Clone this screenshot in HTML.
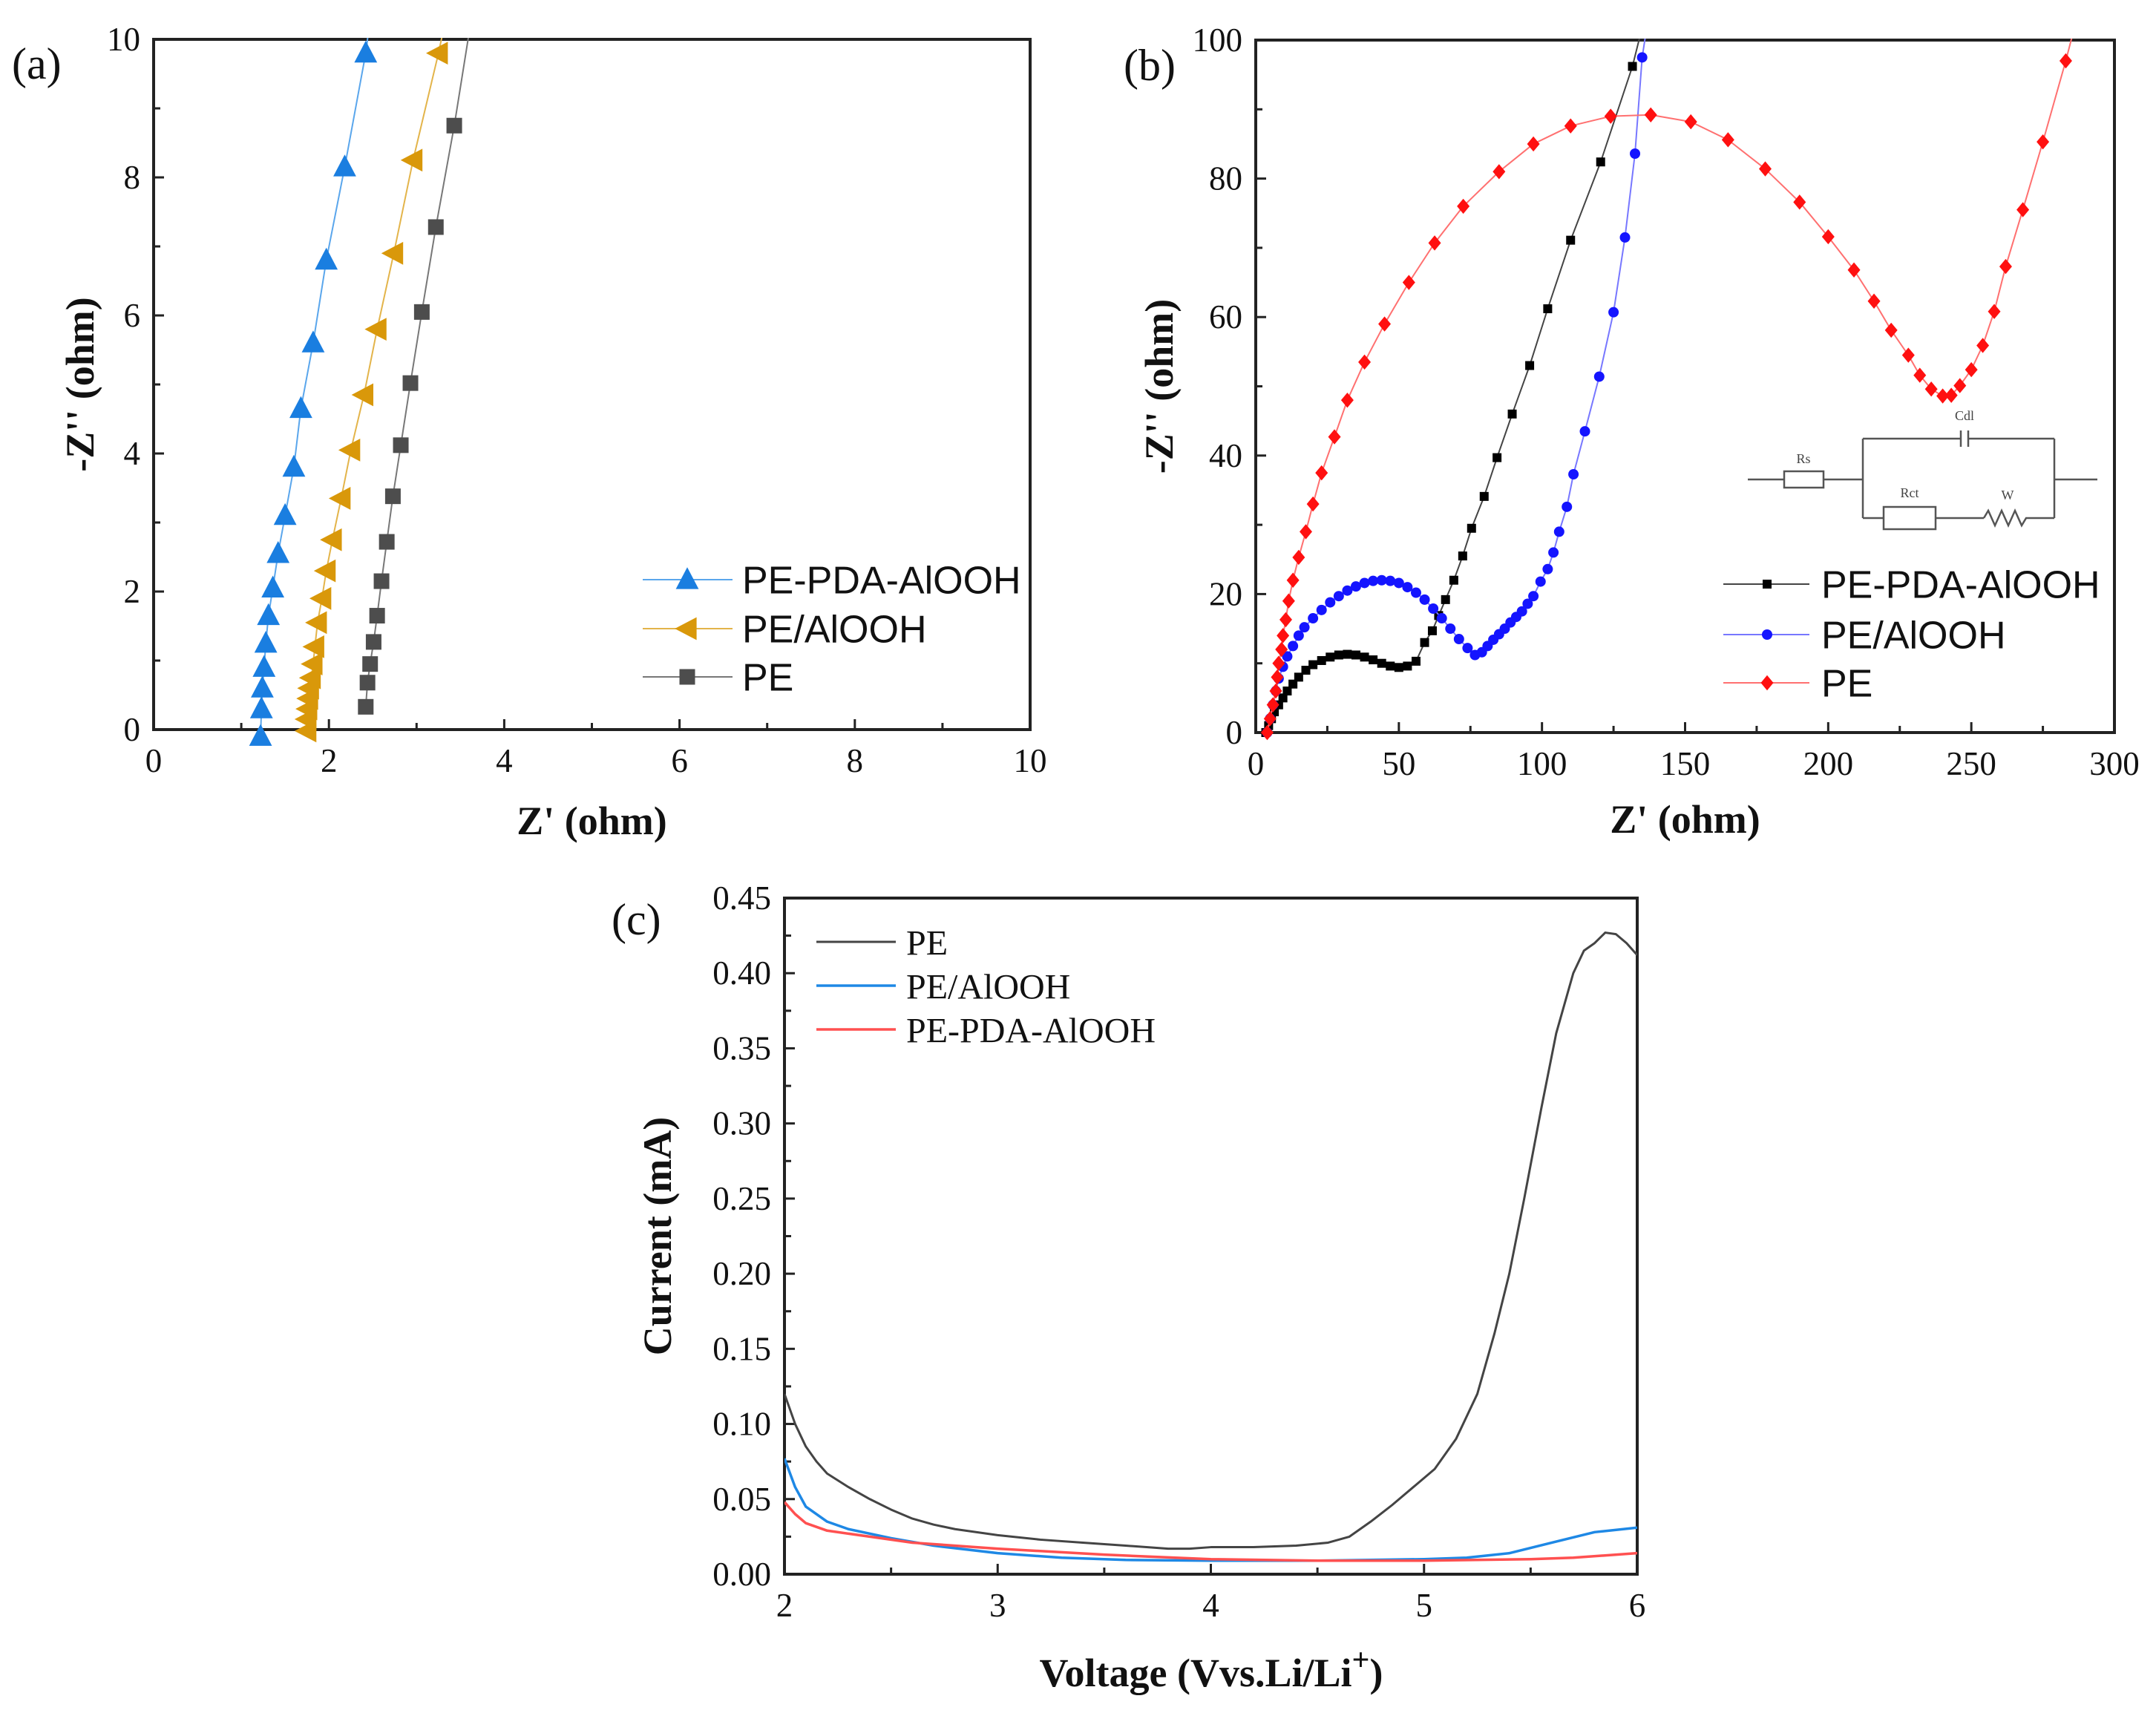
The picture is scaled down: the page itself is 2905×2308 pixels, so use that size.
<!DOCTYPE html>
<html><head><meta charset="utf-8"><style>
html,body{margin:0;padding:0;background:#fff;}
svg{display:block;}
</style></head><body>
<svg id="fig" width="2905" height="2308" viewBox="0 0 2905 2308" xmlns="http://www.w3.org/2000/svg"></svg>
<script>
// ---- Panel (a) data ----
const aPdaX=[1.22,1.23,1.24,1.26,1.28,1.31,1.36,1.42,1.5,1.6,1.68,1.82,1.97,2.18,2.42];
const aPdaY=[-0.1,0.3,0.6,0.9,1.25,1.65,2.05,2.55,3.1,3.8,4.65,5.6,6.8,8.15,9.8];
const aAlX=[1.75,1.75,1.76,1.77,1.78,1.8,1.82,1.84,1.87,1.92,1.97,2.04,2.14,2.25,2.4,2.55,2.74,2.96,3.25];
const aAlY=[-0.02,0.15,0.3,0.45,0.6,0.75,0.95,1.2,1.55,1.9,2.3,2.75,3.35,4.05,4.85,5.8,6.9,8.25,9.8];
const aPeX=[2.42,2.44,2.47,2.51,2.55,2.6,2.66,2.73,2.82,2.93,3.06,3.22,3.43];
const aPeY=[0.33,0.68,0.95,1.27,1.65,2.15,2.72,3.38,4.12,5.02,6.05,7.28,8.75];
const aXTicks=[0,2,4,6,8,10];
const aYTicks=[0,2,4,6,8,10];
// ---- Panel (b) data ----
const bPdaX=[3.5,4.5,5.5,6.5,8,9.5,11,13,15,17.5,20,23,26,29,32,35,38,41,44,47,50,53,56,59,61.7,63.9,66.3,69.2,72.3,75.4,79.8,84.3,89.6,95.7,102,110,120.5,131.6];
const bPdaY=[0,1,2,3,4,5,6,7,8,9,9.8,10.4,10.9,11.2,11.3,11.2,10.9,10.5,10,9.6,9.4,9.6,10.3,13,14.7,16.9,19.2,22,25.5,29.5,34.1,39.7,46,53,61.2,71.1,82.4,96.2];
const bAlX=[4,5,6,7,8,9.5,11,13,15,17,20,23,26,29,32,35,38,41,44,47,50,53,56,59,62,65,68,71,74,76.6,79,81,83,85,87,89,91,93,95,97,99.5,102,104,106,108.7,111,115,120,125,129,132.5,135];
const bAlY=[0,2,4,6,7.8,9.5,11,12.5,14,15.2,16.5,17.7,18.8,19.7,20.5,21.1,21.6,21.9,22,21.9,21.6,21,20.2,19.2,17.9,16.5,15,13.5,12.2,11.2,11.6,12.5,13.4,14.2,15,15.9,16.7,17.5,18.6,19.7,21.8,23.6,26,29,32.6,37.3,43.5,51.4,60.7,71.5,83.6,97.5];
const bPeX=[4,5,6,7,7.5,8,9,9.5,10.5,11.5,13,15,17.5,20,23,27.5,32,38,45,53.5,62.5,72.5,85,97,110,124,138,152,165,178,190,200,209,216,222,228,232,236,240,243,246,250,254,258,262,268,275,283];
const bPeY=[0,2,4,6,8,10,12,14,16.3,19,22,25.3,29,33,37.5,42.7,48,53.5,59,65,70.7,76,81,85,87.6,89,89.2,88.2,85.6,81.4,76.6,71.6,66.8,62.3,58.1,54.5,51.6,49.6,48.6,48.7,50.1,52.4,55.9,60.8,67.3,75.5,85.3,97];
const bXTicks=[0,50,100,150,200,250,300];
const bYTicks=[0,20,40,60,80,100];
// ---- Panel (c) data ----
const cPeX=[2,2.05,2.1,2.15,2.2,2.3,2.4,2.5,2.6,2.7,2.8,3,3.2,3.4,3.6,3.8,3.9,4,4.2,4.4,4.55,4.65,4.75,4.85,4.95,5.05,5.15,5.25,5.33,5.4,5.47,5.55,5.62,5.7,5.75,5.8,5.85,5.9,5.95,6];
const cPeY=[0.12,0.1,0.085,0.075,0.067,0.058,0.05,0.043,0.037,0.033,0.03,0.026,0.023,0.021,0.019,0.017,0.017,0.018,0.018,0.019,0.021,0.025,0.035,0.046,0.058,0.07,0.09,0.12,0.16,0.2,0.25,0.31,0.36,0.4,0.415,0.42,0.427,0.426,0.42,0.412];
const cAlX=[2,2.05,2.1,2.2,2.3,2.5,2.7,3,3.3,3.6,4,4.5,5,5.2,5.4,5.6,5.8,6];
const cAlY=[0.077,0.058,0.045,0.035,0.03,0.024,0.019,0.014,0.011,0.0095,0.009,0.009,0.01,0.011,0.014,0.021,0.028,0.031];
const cPdaX=[2,2.05,2.1,2.2,2.4,2.6,3,3.5,4,4.5,5,5.5,5.7,6];
const cPdaY=[0.048,0.04,0.034,0.029,0.025,0.021,0.017,0.013,0.01,0.009,0.009,0.01,0.011,0.014];
const cXTicks=[2,3,4,5,6];
const cYTicks=[0,0.05,0.1,0.15,0.2,0.25,0.3,0.35,0.4,0.45];

const svg=document.getElementById('fig');
const NS='http://www.w3.org/2000/svg';
const SERIF='"Liberation Serif", serif';
const SANS='"Liberation Sans", sans-serif';
function mk(tag,attrs,parent){const e=document.createElementNS(NS,tag);for(const k in attrs)e.setAttribute(k,attrs[k]);(parent||svg).appendChild(e);return e;}
function txt(s,attrs,parent){const e=mk('text',attrs,parent);e.textContent=s;return e;}

function axes(P){
  const g=mk('g',{});
  
  
  const sx=v=>P.l+(v-P.x0)/(P.x1-P.x0)*(P.r-P.l);
  const sy=v=>P.b-(v-P.y0)/(P.y1-P.y0)*(P.b-P.t);
  for(let v=P.x0;v<=P.x1+1e-9;v+=P.xMinor){const x=sx(v);const maj=P.xTicks.some(t=>Math.abs(t-v)<1e-9);const L=maj?14:9;
    mk('line',{x1:x,x2:x,y1:P.b,y2:P.b-L,stroke:'#222','stroke-width':3},g);}
  for(let v=P.y0;v<=P.y1+1e-9;v+=P.yMinor){const y=sy(v);const maj=P.yTicks.some(t=>Math.abs(t-v)<1e-9);const L=maj?14:9;
    mk('line',{x1:P.l,x2:P.l+L,y1:y,y2:y,stroke:'#222','stroke-width':3},g);}
  mk('rect',{x:P.l,y:P.t,width:P.r-P.l,height:P.b-P.t,fill:'none',stroke:'#222','stroke-width':4},g);
  P.xTicks.forEach(v=>{const t=txt(P.fmtX?P.fmtX(v):String(v),{x:sx(v),y:P.b+57,'font-family':SERIF,'font-size':45,'text-anchor':'middle',fill:'#111'},g);
    });
  P.yTicks.forEach(v=>{const t=txt(P.fmtY?P.fmtY(v):String(v),{x:P.l-18,y:sy(v)+15,'font-family':SERIF,'font-size':45,'text-anchor':'end',fill:'#111'},g);
    });
  if(P.xTitle){const xt=txt(P.xTitle,{x:(P.l+P.r)/2,y:P.xTitleY,'font-family':SERIF,'font-size':54,'font-weight':'bold','text-anchor':'middle',fill:'#111'},g);
  }
  const yt=txt(P.yTitle,{x:0,y:0,'font-family':SERIF,'font-size':54,'font-weight':'bold','text-anchor':'middle',fill:'#111',transform:`translate(${P.yTitleX},${(P.t+P.b)/2}) rotate(-90)`},g);
  
  const pl=txt(P.label,{x:P.labelX,y:P.labelY,'font-family':SERIF,'font-size':60,fill:'#111'},g);
  
  return {sx,sy};
}
function marker(type,x,y,s,color,g){
  if(type==='tri')return mk('polygon',{points:`${x},${y-s*0.6} ${x-s*0.55},${y+s*0.45} ${x+s*0.55},${y+s*0.45}`,fill:color},g);
  if(type==='ltri')return mk('polygon',{points:`${x-s*0.6},${y} ${x+s*0.45},${y-s*0.55} ${x+s*0.45},${y+s*0.55}`,fill:color},g);
  if(type==='sq')return mk('rect',{x:x-s/2,y:y-s/2,width:s,height:s,fill:color},g);
  if(type==='circ')return mk('circle',{cx:x,cy:y,r:s/2,fill:color},g);
  if(type==='dia')return mk('polygon',{points:`${x},${y-s*0.6} ${x+s*0.5},${y} ${x},${y+s*0.6} ${x-s*0.5},${y}`,fill:color},g);
}
function series(S,A,P){
  const g=mk('g',{});
  
  
  const cp=mk('clipPath',{id:'clip-'+S.name},g);
  mk('rect',{x:P.l,y:P.t-2,width:P.r-P.l,height:P.b-P.t+30},cp);
  let pts=S.x.map((v,i)=>[A.sx(v),A.sy(S.y[i])]);
  let lpts=pts.slice();
  if(S.ext){lpts.push([A.sx(S.ext[0]),A.sy(S.ext[1])]);}
  const pl=mk('polyline',{points:lpts.map(p=>p.join(',')).join(' '),fill:'none',stroke:S.lineColor,'stroke-width':S.lw||2,'stroke-linejoin':'round','clip-path':`url(#clip-${S.name})`},g);
  
  
  if(S.marker){pts.forEach(p=>{const m=marker(S.marker,p[0],p[1],S.ms,S.color,g);
    
    });}
}
function legend(items,x0,x1,mx,tx,ys,font,size,nm){
  const g=mk('g',{});
  
  
  items.forEach((it,i)=>{const y=ys[i];
    const e=mk('g',{},g);
    
    
    mk('line',{x1:x0,x2:x1,y1:y,y2:y,stroke:it.lineColor,'stroke-width':it.lw||2},e);
    if(it.marker)marker(it.marker,mx,y,it.ms,it.color,e);
    txt(it.label,{x:tx,y:y+size*0.36,'font-family':font,'font-size':size,fill:'#111'},e);
  });
}

// ===== Panel (a) =====
const PA={name:'panel-a',l:207,r:1388,t:53,b:983,x0:0,x1:10,y0:0,y1:10,xMinor:1,yMinor:1,xTicks:aXTicks,yTicks:aYTicks,
  xTitle:"Z' (ohm)",yTitle:"-Z'' (ohm)",xTitleY:1124,yTitleX:126,label:'(a)',labelX:16,labelY:106};
const AA=axes(PA);
const aS=[
 {name:'a-pe-pda-alooh',x:aPdaX,y:aPdaY,marker:'tri',ms:28,color:'#1a7ee0',lineColor:'#5aa6ec',ext:[2.45,10.1],label:'PE-PDA-AlOOH'},
 {name:'a-pe-alooh',x:aAlX,y:aAlY,marker:'ltri',ms:28,color:'#d9980a',lineColor:'#e3b44a',ext:[3.3,10.1],label:'PE/AlOOH'},
 {name:'a-pe',x:aPeX,y:aPeY,marker:'sq',ms:21,color:'#4d4d4d',lineColor:'#777',ext:[3.6,10.1],label:'PE'}];
aS.forEach(s=>series(s,AA,PA));
legend(aS,866,987,926,1000,[781,847,912],SANS,52,'legend-a');

// ===== Panel (b) =====
const PB={name:'panel-b',l:1692,r:2849,t:54,b:987,x0:0,x1:300,y0:0,y1:100,xMinor:25,yMinor:10,xTicks:bXTicks,yTicks:bYTicks,
  xTitle:"Z' (ohm)",yTitle:"-Z'' (ohm)",xTitleY:1122,yTitleX:1580,label:'(b)',labelX:1514,labelY:108};
const AB=axes(PB);
const bS=[
 {name:'b-pe-pda-alooh',x:bPdaX,y:bPdaY,marker:'sq',ms:12,color:'#000',lineColor:'#444',ext:[134.5,101],label:'PE-PDA-AlOOH'},
 {name:'b-pe-alooh',x:bAlX,y:bAlY,marker:'circ',ms:14,color:'#1414ff',lineColor:'#7777ff',ext:[136.3,101],label:'PE/AlOOH'},
 {name:'b-pe',x:bPeX,y:bPeY,marker:'dia',ms:17,color:'#ff1010',lineColor:'#ff7070',ext:[285.5,101],label:'PE'}];
bS.forEach(s=>series(s,AB,PB));
legend(bS,2322,2438,2381,2454,[787,855,920],SANS,52,'legend-b');

// circuit inset
(function(){
  const g=mk('g',{stroke:'#555','stroke-width':2.5,fill:'none'});
  
  
  mk('line',{x1:2355,y1:646,x2:2404,y2:646},g);
  mk('rect',{x:2404,y:635,width:53,height:22},g);
  mk('line',{x1:2457,y1:646,x2:2510,y2:646},g);
  mk('line',{x1:2510,y1:591,x2:2510,y2:698},g);
  mk('line',{x1:2510,y1:591,x2:2642,y2:591},g);
  mk('line',{x1:2642,y1:580,x2:2642,y2:602},g);
  mk('line',{x1:2652,y1:580,x2:2652,y2:602},g);
  mk('line',{x1:2652,y1:591,x2:2768,y2:591},g);
  mk('line',{x1:2510,y1:698,x2:2538,y2:698},g);
  mk('rect',{x:2538,y:683,width:70,height:30},g);
  mk('line',{x1:2608,y1:698,x2:2673,y2:698},g);
  mk('polyline',{points:'2673,698 2679,688 2688,708 2697,688 2706,708 2715,688 2724,708 2730,698 2736,698'},g);
  mk('line',{x1:2736,y1:698,x2:2768,y2:698},g);
  mk('line',{x1:2768,y1:591,x2:2768,y2:698},g);
  mk('line',{x1:2768,y1:646,x2:2826,y2:646},g);
  const lab=[['Rs',2430,624],['Cdl',2647,566],['Rct',2573,670],['W',2705,673]];
  lab.forEach(l=>{const t=txt(l[0],{x:l[1],y:l[2],'font-family':SERIF,'font-size':18,'text-anchor':'middle',fill:'#444',stroke:'none'},g);
    });
})();

// ===== Panel (c) =====
const PC={name:'panel-c',l:1057,r:2206,t:1210,b:2121,x0:2,x1:6,y0:0,y1:0.45,xMinor:0.5,yMinor:0.025,xTicks:cXTicks,yTicks:cYTicks,
  fmtY:v=>v.toFixed(2),xTitle:'',yTitle:'Current (mA)',xTitleY:2270,yTitleX:904,label:'(c)',labelX:824,labelY:1259};
const AC=axes(PC);
(function(){const t=mk('text',{x:1632,y:2272,'font-family':SERIF,'font-size':54,'font-weight':'bold','text-anchor':'middle',fill:'#111'});
  
  
  t.appendChild(document.createTextNode('Voltage (Vvs.Li/Li'));
  const s=mk('tspan',{dy:-22,'font-size':42},t);s.textContent='+';
  const s2=mk('tspan',{dy:22},t);s2.textContent=')';})();
const cS=[
 {name:'c-pe',x:cPeX,y:cPeY,color:'#444',lineColor:'#444',lw:3,label:'PE'},
 {name:'c-pe-alooh',x:cAlX,y:cAlY,color:'#1e88e5',lineColor:'#1e88e5',lw:3.5,label:'PE/AlOOH'},
 {name:'c-pe-pda-alooh',x:cPdaX,y:cPdaY,color:'#ff5050',lineColor:'#ff5050',lw:3.5,label:'PE-PDA-AlOOH'}];
cS.forEach(s=>series(s,AC,PC));
legend(cS,1100,1207,0,1221,[1269,1328,1387],SERIF,48,'legend-c');
</script>
</body></html>
